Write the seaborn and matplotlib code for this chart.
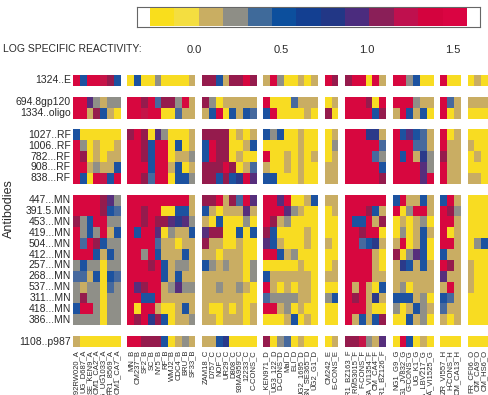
import numpy as np
import pandas as pd
import matplotlib
matplotlib.use("Agg")
from matplotlib import pyplot as plt
from matplotlib.colors import ListedColormap
import seaborn as sns

# antibodies (rows) and how they are grouped
antibodies = ["1324..E", "694.8gp120", "1334..oligo",
              "1027..RF", "1006..RF", "782...RF", "908...RF", "838...RF",
              "447...MN", "391.5.MN", "453...MN", "419...MN", "504...MN", "412...MN",
              "257...MN", "268...MN", "537...MN", "311...MN", "418...MN", "386...MN",
              "1108..p987"]
row_groups = [1, 2, 5, 12, 1]

# envelope strains per clade (columns)
strains = {
    "A": ["RW_92RW020_A", "UG_D687_A", "SE_KEN9_A", "CM1_CA2_A", "UG_UG1033_A", "FR1_8569_A", "CM1_CA7_A"],
    "B": ["MN_B", "CM237_B", "SF2_B", "SC_B", "NY5_B", "RF_B", "WMJ2_B", "CDC4_B", "BRU_B", "SF33_B"],
    "C": ["ZAM18_C", "D757_C", "NOF_C", "UR29_C", "D808_C", "93MA959_C", "12233_C", "C-CONS_C"],
    "D": ["SEI_KEN971_D", "UG3_122_D", "D-CONS_D", "Mal_D", "ELI_D", "UG2_1695_D", "SN_SE365_D", "UG2_G1_D"],
    "E": ["CM242_E", "E-CONS_E"],
    "F": ["BR1_BZ163_F", "R2_RM53015_F", "F-CONS_F", "FA_VI1354_F", "CM_CA4_F", "BR1_BZ126_F"],
    "G": ["NG1_G9_G", "G1_JV832_G", "G-CONS_G", "UG_K1_G", "GA_LBV217_G", "GA_VI1525_G"],
    "H": ["ZR_VI557_H", "H-CONS_H", "CM_CA13_H"],
    "O": ["FR_CF06_O", "CM_CA9_O", "CM_HS6_O"],
}

# reactivity class per cell, one string per antibody row
# Y yellow, T tan, G gray, S steel blue, B blue, N navy, P purple, M maroon, C crimson, R red
clade_A = ["RBRRCMB", "RRPGTGG", "RRTMBTY", "BYYYYYY", "RGYTYYT", "RMYTYTT", "RRTGTTB",
           "RBYRCBR", "RRRRMPG", "RRRRMBS", "MGBRRGG", "RGBGRTB", "RSRMBGG", "RRRBTBG",
           "GBGGYGG", "SSTBYBS", "GTGGYSG", "GMGGYGG", "BRRGYGG", "GGGGYGG", "TYYYYYY"]
clade_B = ["YBYYGYYYYT", "RRMRSMMGRT", "RRCRRYYSTT", "MRMYPGYYYT", "RRMBRRYBYT",
           "RRMBRRYTTG", "RRRBRRTBYT", "RRMSRRYBBG", "RRRRRRRRRT", "RRMRRYYBBT",
           "RRMRMMPNPG", "RBRRPYGTTB", "RRRRSTTYTT", "RRGRBTTTBT", "RRRMRBTGGT",
           "RRRRRBTBTT", "RPMRRTGPGG", "RRBBRTTTTT", "RYRRTYYTBT", "RMRNMBYTTG",
           "RRMMMBYTGT"]
clade_C = ["MMBTMMRM", "MGYTTTTT", "TBRYBTBS", "MMMMYTYT", "BRMMYYTB", "BRMMYTYY",
           "MMMRMYTS", "MMBMBNRP", "MMRTMSRP", "BTYTTTPT", "TYBYYYGY", "PMMYYBYB",
           "MTTYYTYY", "TTYTTTYY", "BGTGTTYG", "TTTTTTYG", "TTGTTGTY", "TTTTTTYY",
           "TYYTYTYT", "TTYTTTYT", "TTBNYYYY"]
clade_D = ["TRGYYTYT", "RYYYSTTT", "BRYYYYTY", "BGBYYTYY", "YYYYYTYY", "RYYTYTYT",
           "TYYTYTYY", "BBYYYTYY", "RRPRYYTB", "RRRPGTYY", "RMTGYYYY", "MBYYYYTY",
           "PBTYYYTY", "RRBTGYYY", "YYYYYTYY", "BTTTTTTY", "RTYTYTTY", "SGGGGTTY",
           "RRTGYTYY", "YYYTBYTY", "MYGSYTYY"]
clade_E = ["RM", "YT", "MY", "YT", "YG", "YT", "TT", "TT", "TT", "YT", "YY", "YY", "TY",
           "YY", "YT", "TT", "YY", "GB", "YY", "YY", "YT"]
clade_F = ["MRRYRT", "RRRMYR", "RRRRBM", "RRRNNT", "RRRRRS", "RRRRSG", "RRRRRB",
           "RRRRRM", "RRRRRR", "RRRMBT", "RBBRTM", "RRMRRY", "RRSBNT", "RRRRTY",
           "RRRRTY", "RRRRTT", "RTRTYB", "RMRTNT", "RRRTYY", "RTBTBM", "MMCGTP"]
clade_G = ["RRGBYY", "RRRGTT", "TRBTBY", "RBPBST", "RRRSST", "RBRTNG", "RRRRPG",
           "RRRRPR", "BRTTBT", "RYGRRT", "YTYTGY", "YGYTBT", "TRYTBY", "MYGPBY",
           "TNBTBT", "TTTTTT", "TGYTTT", "BBBTGY", "GYTBGT", "YYBTGY", "YRBYTY"]
clade_H = ["RYY", "RST", "RYT", "RYT", "RTT", "MTT", "RTT", "RTT", "BRT", "RMG", "RRT",
           "RYT", "RRT", "BTT", "RMT", "PTT", "TRT", "BST", "STT", "TYT", "YYY"]
clade_O = ["YTY", "TTT", "YYY", "YYY", "TYY", "YTY", "YYY", "TTY", "YYY", "YYY", "YYY",
           "YYY", "YGB", "YYY", "TYY", "TYY", "TYY", "YYY", "YYY", "YYY", "YYY"]
clades = {"A": clade_A, "B": clade_B, "C": clade_C, "D": clade_D, "E": clade_E,
          "F": clade_F, "G": clade_G, "H": clade_H, "O": clade_O}

codes = "YTGSBNPMCR"
cell_colors = ["#F8DC22", "#C9AD63", "#8F8F88", "#46699E", "#1C52A0",
               "#2B3A8A", "#562E7C", "#951B4D", "#C51448", "#D7073F"]

# colour scale legend
scale_colors = ["#F9DE1C", "#F4DE40", "#C9AE62", "#8E8E86", "#3F6A9A", "#0C4F9D",
                "#133F91", "#223786", "#4B2C7E", "#8A1F58", "#BF104E", "#D4033E", "#DA0442"]
scale_start, scale_step = -0.26, 0.1417
scale_ticks = [0.0, 0.5, 1.0, 1.5]

# build one matrix with blank rows / columns between groups
col_labels, blocks = [], []
for k, name in enumerate(clades):
    block = np.array([[codes.index(c) for c in r] for r in clades[name]], dtype=float)
    if k > 0:
        blocks.append(np.full((len(antibodies), 1), np.nan))
        col_labels.append("")
    blocks.append(block)
    col_labels += strains[name]
wide = np.hstack(blocks)

rows, row_labels, i = [], [], 0
for k, n in enumerate(row_groups):
    if k > 0:
        rows.append(np.full(wide.shape[1], np.nan))
        row_labels.append("")
    for j in range(n):
        rows.append(wide[i])
        row_labels.append(antibodies[i])
        i += 1
mat = pd.DataFrame(np.vstack(rows), index=row_labels)

plt.rcParams["font.family"] = ["Liberation Sans", "DejaVu Sans"]
txt = "#2a2a2a"
W, H = 488, 395
fig = plt.figure(figsize=(W / 100, H / 100), dpi=100)

ax = fig.add_axes([73 / W, 1 - 347 / H, 415 / W, 272 / H])
sns.heatmap(mat, ax=ax, cmap=ListedColormap(cell_colors), vmin=-0.5, vmax=9.5,
            cbar=False, xticklabels=col_labels, yticklabels=row_labels)
ax.tick_params(length=0, colors=txt, pad=2)
ax.tick_params(axis="y", labelsize=7.5, pad=1.5)
ax.tick_params(axis="x", labelsize=5.5)
plt.setp(ax.get_yticklabels(), rotation=0)
plt.setp(ax.get_xticklabels(), rotation=90)
fig.text(9 / W, 1 - 209 / H, "Antibodies", rotation=90, fontsize=9, color=txt,
         ha="center", va="center")

# colour scale box
frame = fig.add_axes([137 / W, 1 - 27 / H, 343 / W, 20 / H])
frame.set_xticks([])
frame.set_yticks([])
for s in frame.spines.values():
    s.set_color("#666666")
    s.set_linewidth(0.8)
bar = fig.add_axes([150 / W, 1 - 26 / H, 317 / W, 18 / H])
sns.heatmap(np.arange(len(scale_colors)).reshape(1, -1), ax=bar,
            cmap=ListedColormap(scale_colors), cbar=False, xticklabels=False,
            yticklabels=False)
bar.set_xticks([(v - scale_start) / scale_step for v in scale_ticks])
bar.set_xticklabels([f"{v:.1f}" for v in scale_ticks])
bar.tick_params(length=0, labelsize=8, colors=txt, pad=14)
fig.text(3 / W, 1 - 49 / H, "LOG SPECIFIC REACTIVITY:", fontsize=7.5, color=txt,
         va="center")

fig.savefig("out.png", dpi=100)
